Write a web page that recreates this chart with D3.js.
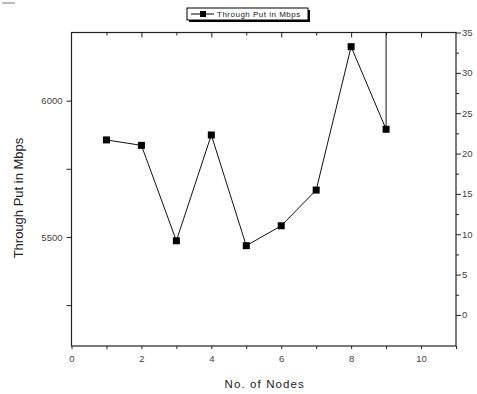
<!DOCTYPE html>
<html><head><meta charset="utf-8">
<script src="https://cdn.jsdelivr.net/npm/d3@7"></script>
<style>
body{margin:0;background:#fff;}
svg{display:block;font-family:Arial,"Liberation Sans",sans-serif;}
</style></head>
<body><svg id="c" width="477" height="394"></svg>
<script>
const nodes = [1, 2, 3, 4, 5, 6, 7, 8, 9, 9];
const throughput = [5856, 5836, 5486, 5874, 5468, 5541, 5672, 6198, 5895, 6400];
const xTickLabels = [0, 2, 4, 6, 8, 10];
const leftTickLabels = [5500, 6000];
const rightTickLabels = [0, 5, 10, 15, 20, 25, 30, 35];
const seriesName = "Through Put in Mbps";

const svg = d3.select("#c");
const L = 71.5, R = 456, T = 32.5, B = 346;
const x = d3.scaleLinear().domain([0, 11]).range([L, R]);
const yL = d3.scaleLinear().domain([5100, 6250]).range([B, T]);
const yR = d3.scaleLinear().domain([-3.85, 35]).range([B, T]);

const ax = "#222", lab = "#444";

svg.append("defs").append("clipPath").attr("id","clip")
  .append("rect").attr("x",L).attr("y",T).attr("width",R-L).attr("height",B-T);

// frame
svg.append("rect").attr("x",L).attr("y",T).attr("width",R-L).attr("height",B-T)
  .attr("fill","none").attr("stroke",ax).attr("stroke-width",1.2);

// bottom axis
const xAll = d3.range(0, 12);
const gb = svg.append("g").attr("transform",`translate(0,${B})`)
  .call(d3.axisBottom(x).tickValues(xAll).tickSize(3).tickFormat(d => xTickLabels.includes(d) ? d : ""));
gb.select(".domain").remove();
gb.selectAll("line").attr("stroke",ax);
gb.selectAll("text").attr("fill",lab).attr("font-size",9.5).attr("dy","1.1em");

// top ticks inward
const gt = svg.append("g").attr("transform",`translate(0,${T})`)
  .call(d3.axisBottom(x).tickValues(xAll.slice(1,11)).tickSizeInner(0).tickFormat(""));
gt.select(".domain").remove();
gt.selectAll(".tick line").attr("stroke",ax).attr("y2", d => d % 2 === 0 ? 5 : 3);

// left axis
const yLAll = [5250, 5500, 5750, 6000];
const gl = svg.append("g").attr("transform",`translate(${L},0)`)
  .call(d3.axisLeft(yL).tickValues(yLAll).tickSize(5).tickPadding(4)
    .tickFormat(d => leftTickLabels.includes(d) ? d : ""));
gl.select(".domain").remove();
gl.selectAll("line").attr("stroke",ax);
gl.selectAll("text").attr("fill",lab).attr("font-size",9.5);

// right axis
const yRAll = d3.range(0, 37.5, 2.5);
const gr = svg.append("g").attr("transform",`translate(${R},0)`)
  .call(d3.axisRight(yR).tickValues(yRAll).tickSize(4).tickPadding(2)
    .tickFormat(d => rightTickLabels.includes(d) ? d : ""));
gr.select(".domain").remove();
gr.selectAll("line").attr("stroke",ax).attr("x2", d => rightTickLabels.includes(d) ? 5 : 3);
gr.selectAll("text").attr("fill",lab).attr("font-size",9.5);

// series
const data = nodes.map((n,i)=>({n, v: throughput[i]}));
const plot = svg.append("g").attr("clip-path","url(#clip)");
plot.append("path").datum(data)
  .attr("fill","none").attr("stroke","#111").attr("stroke-width",1)
  .attr("d", d3.line().x(d=>x(d.n)).y(d=>yL(d.v)));
const ms = 7;
plot.selectAll("rect.m").data(data).join("rect").attr("class","m")
  .attr("x",d=>x(d.n)-ms/2).attr("y",d=>yL(d.v)-ms/2)
  .attr("width",ms).attr("height",ms).attr("fill","#000");

// axis titles
svg.append("text").attr("x",(L+R)/2+1).attr("y",388).attr("text-anchor","middle")
  .attr("font-size",11.5).attr("letter-spacing",1.1).attr("fill","#222").text("No. of Nodes");
svg.append("text").attr("transform","translate(23,198) rotate(-90)").attr("text-anchor","middle")
  .attr("font-size",13).attr("fill","#222").text("Through Put in Mbps");

// legend
const lg = svg.append("g");
lg.append("rect").attr("x",189).attr("y",10).attr("width",121).attr("height",12).attr("fill","#000");
lg.append("rect").attr("x",187).attr("y",8).attr("width",121).attr("height",12)
  .attr("fill","#fff").attr("stroke","#000").attr("stroke-width",1);
lg.append("line").attr("x1",191).attr("x2",214).attr("y1",14).attr("y2",14).attr("stroke","#000");
lg.append("rect").attr("x",200).attr("y",11).attr("width",6).attr("height",6).attr("fill","#000");
lg.append("text").attr("x",217).attr("y",17).attr("font-size",8).attr("letter-spacing",0.5)
  .attr("fill","#222").text(seriesName);

// small grey mark top-left
svg.append("rect").attr("x",2).attr("y",2).attr("width",13).attr("height",2).attr("fill","#bbb");
</script></body></html>
